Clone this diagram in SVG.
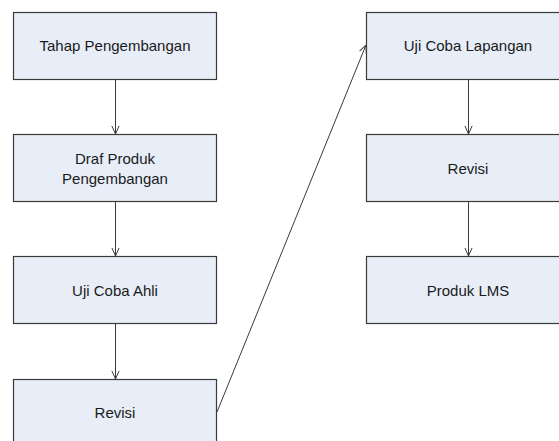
<svg xmlns="http://www.w3.org/2000/svg" width="559" height="441" viewBox="0 0 559 441">
<defs>
<style>
.box rect{fill:#E8EEF8;stroke:#3a3a3a;stroke-width:1.2}
.box text{font-family:"Liberation Sans",Arial,sans-serif;font-size:15px;fill:#1a1a1a;text-anchor:middle}
.conn line{stroke:#3a3a3a;stroke-width:1;fill:none;marker-end:url(#arr)}
</style>
<marker id="arr" viewBox="0 0 10 10" refX="10" refY="5" markerWidth="9" markerHeight="9" markerUnits="userSpaceOnUse" orient="auto">
<path d="M1,1 L10,5 L1,9" fill="none" stroke="#3a3a3a" stroke-width="1.1"/>
</marker>
</defs>
<rect width="559" height="441" fill="#fff"/>
<g class="conn">
<line x1="115.5" y1="79" x2="115.5" y2="134"/>
<line x1="115.5" y1="201" x2="115.5" y2="256"/>
<line x1="115.5" y1="324" x2="115.5" y2="379"/>
<line x1="217" y1="412" x2="366" y2="45"/>
<line x1="468.5" y1="79" x2="468.5" y2="134"/>
<line x1="468.5" y1="201" x2="468.5" y2="256"/>
</g>
<g id="n1" class="box"><rect x="13.5" y="12.5" width="203" height="67"/><text x="115" y="51">Tahap Pengembangan</text></g>
<g id="n2" class="box"><rect x="13.5" y="134.5" width="203" height="67"/><text x="115" y="163.5">Draf Produk</text><text x="115" y="183.5">Pengembangan</text></g>
<g id="n3" class="box"><rect x="13.5" y="256.5" width="203" height="67"/><text x="115" y="295.5">Uji Coba Ahli</text></g>
<g id="n4" class="box"><rect x="13.5" y="379.5" width="203" height="67"/><text x="115" y="418">Revisi</text></g>
<g id="n5" class="box"><rect x="366.5" y="12.5" width="204" height="67"/><text x="468" y="51">Uji Coba Lapangan</text></g>
<g id="n6" class="box"><rect x="366.5" y="134.5" width="204" height="67"/><text x="468" y="173.5">Revisi</text></g>
<g id="n7" class="box"><rect x="366.5" y="256.5" width="204" height="67"/><text x="468" y="295.5">Produk LMS</text></g>
</svg>
